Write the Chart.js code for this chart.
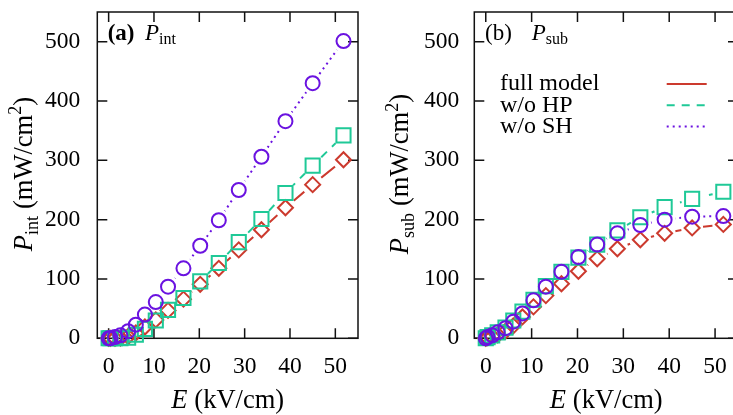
<!DOCTYPE html>
<html><head><meta charset="utf-8">
<script src="https://cdn.jsdelivr.net/npm/chart.js@4.4.1/dist/chart.umd.min.js"></script>
<style>
html,body{margin:0;padding:0;background:#fff;overflow:hidden;width:733px;height:415px;position:relative;}
#wa{position:absolute;left:0;top:0;width:370px;height:415px;}
#wb{position:absolute;left:370px;top:0;width:380px;height:415px;}
canvas{display:block;}
</style></head><body>
<div id="wa"><canvas id="ca" width="370" height="415"></canvas></div>
<div id="wb"><canvas id="cb" width="380" height="415"></canvas></div>
<script>
// ---- data ----
const fieldE   = [0, 0.4, 1.4, 2.6, 4.3, 6, 8, 10.4, 13.1, 16.5, 20.2, 24.3, 28.7, 33.7, 39, 45, 51.8];
const pIntFull = [0, 0, 0, 0.5, 3, 9, 19, 31, 47, 66, 91, 118, 149, 183, 220, 259, 301];
const pIntNoHP = [0, 0, 0, 0, 1, 6, 16, 30, 48, 68, 96, 127, 162, 201, 245, 291, 342];
const pIntNoSH = [0, 0, 2, 5, 12, 23, 40, 61, 87, 118, 156, 199, 250, 306, 366, 430, 501];
const pSubFull = [0, 1, 3, 6, 12, 21, 36, 53, 72, 92, 113, 134, 151, 166, 177, 186, 192];
const pSubNoHP = [0, 2, 5, 10, 18, 30, 45, 65, 88, 112, 136, 158, 182, 204, 221, 235, 247];
const pSubNoSH = [0, 2, 5, 10, 17, 28, 42, 64, 87, 112, 137, 158, 177, 191, 200, 205, 206];
const seriesNames = ['full model', 'w/o HP', 'w/o SH'];
const xTickStep = 10, yTickStep = 100;

const SERIF = '"Liberation Serif", "Times New Roman", serif';
const COL = {full:'#cc3a2e', hp:'#1fc997', sh:'#6a12e0'};
const STY = {
  full:{color:COL.full, dash:[], point:'rectRot', r:7.5},
  hp:{color:COL.hp, dash:[8,7], point:'rect', r:10},
  sh:{color:COL.sh, dash:[2,4], point:'circle', r:7}
};

function pts(vals){ return fieldE.map((e,i)=>({x:e, y:vals[i]})); }

function buildDatasets(full, hp, sh){
  const list = [['sh', sh, 2], ['hp', hp, 1], ['full', full, 0]];
  const ds = [];
  let ord = 0;
  for (const [k, vals, ni] of list){
    const s = STY[k];
    const pIdx = ds.length;
    ds.push({label:seriesNames[ni], data:pts(vals), showLine:false, pointStyle:s.point,
      pointRadius:s.r, pointHoverRadius:s.r, pointBorderWidth:2, borderColor:s.color,
      backgroundColor:'rgba(0,0,0,0)', order:ord++, clip:false});
    ds.push({label:seriesNames[ni]+' line', data:pts(vals), showLine:true, pointRadius:0,
      borderColor:s.color, borderWidth:2, borderDash:s.dash, backgroundColor:'rgba(0,0,0,0)',
      gapFrom:pIdx, gapR:11, order:ord++});
  }
  return ds;
}

function drawRich(ctx, parts, x, y, align, rot){
  ctx.save(); ctx.translate(x,y); if(rot) ctx.rotate(rot);
  let w = 0;
  for (const p of parts){ ctx.font = p.f; w += ctx.measureText(p.t).width + (p.sp||0); }
  let cx = align === 'center' ? -w/2 : 0;
  ctx.textBaseline = 'alphabetic'; ctx.textAlign = 'left'; ctx.fillStyle = '#000';
  for (const p of parts){ ctx.font = p.f; ctx.fillText(p.t, cx, p.dy||0); cx += ctx.measureText(p.t).width + (p.sp||0); }
  ctx.restore();
}

const gapPlugin = {
  id:'gapPlugin',
  beforeDatasetDraw(chart, args){
    const ds = chart.data.datasets[args.index];
    if (ds.gapFrom == null) return;
    const ctx = chart.ctx;
    const els = chart.getDatasetMeta(ds.gapFrom).data;
    ctx.save();
    for (const p of els){
      ctx.beginPath();
      ctx.rect(-10, -10, chart.width+20, chart.height+20);
      ctx.moveTo(p.x + ds.gapR, p.y);
      ctx.arc(p.x, p.y, ds.gapR, 0, Math.PI*2);
      ctx.clip('evenodd');
    }
  },
  afterDatasetDraw(chart, args){
    const ds = chart.data.datasets[args.index];
    if (ds.gapFrom == null) return;
    chart.ctx.restore();
  }
};

const framePlugin = {
  id:'framePlugin',
  beforeDatasetsDraw(chart){
    const {ctx, chartArea:a, scales:{x, y}} = chart;
    const L = 10;
    ctx.save();
    ctx.strokeStyle = '#111'; ctx.lineWidth = 1.5;
    ctx.strokeRect(a.left, a.top, a.right-a.left, a.bottom-a.top);
    ctx.beginPath();
    for (const t of x.ticks){
      const px = x.getPixelForValue(t.value);
      ctx.moveTo(px, a.bottom); ctx.lineTo(px, a.bottom-L);
      ctx.moveTo(px, a.top); ctx.lineTo(px, a.top+L);
    }
    for (const t of y.ticks){
      const py = y.getPixelForValue(t.value);
      ctx.moveTo(a.left, py); ctx.lineTo(a.left+L, py);
      ctx.moveTo(a.right, py); ctx.lineTo(a.right-L, py);
    }
    ctx.stroke();
    ctx.restore();
  },
  afterDraw(chart){
    const o = chart.options.plugins.deco;
    const {ctx, chartArea:a} = chart;
    const cxm = (a.left + a.right)/2;
    const F = 26.5, FS = 18;
    drawRich(ctx, [{t:'E', f:`italic ${F}px ${SERIF}`, sp:7}, {t:'(kV/cm)', f:`${F}px ${SERIF}`}], cxm, 407.5, 'center');
    drawRich(ctx, [
      {t:'P', f:`italic ${F}px ${SERIF}`},
      {t:o.sub, f:`${FS}px ${SERIF}`, dy:6, sp:7},
      {t:'(mW/cm', f:`${F}px ${SERIF}`},
      {t:'2', f:`${FS}px ${SERIF}`, dy:-10.5},
      {t:')', f:`${F}px ${SERIF}`}
    ], o.yTitleX, (a.top+a.bottom)/2 - 1, 'center', -Math.PI/2);
    drawRich(ctx, [{t:o.tag, f:`${o.tagBold?'bold ':''}23px ${SERIF}`}], o.tagX, 40, 'left');
    drawRich(ctx, [{t:'P', f:`italic 23px ${SERIF}`}, {t:o.sub, f:`16px ${SERIF}`, dy:4}], o.tagX + o.pOff, 40, 'left');
    if (o.legend){
      const keys = ['full','hp','sh'];
      keys.forEach((k, i) => {
        const yy = 84 + i*21.3;
        ctx.save();
        ctx.font = `24px ${SERIF}`; ctx.fillStyle = '#000'; ctx.textBaseline = 'middle'; ctx.textAlign = 'left';
        ctx.fillText(seriesNames[i], o.legend.tx, yy);
        ctx.strokeStyle = STY[k].color; ctx.lineWidth = 2; ctx.setLineDash(STY[k].dash);
        ctx.beginPath(); ctx.moveTo(o.legend.lx0, yy); ctx.lineTo(o.legend.lx1, yy); ctx.stroke();
        ctx.restore();
      });
    }
  }
};

function makeChart(id, full, hp, sh, deco, yW, yPad, padRight){
  return new Chart(document.getElementById(id), {
    type:'scatter',
    data:{datasets:buildDatasets(full, hp, sh)},
    options:{
      responsive:false, animation:false, devicePixelRatio:1,
      layout:{padding:{left:0, right:padRight, top:7.3, bottom:0}},
      plugins:{legend:{display:false}, tooltip:{enabled:false}, deco:deco},
      elements:{line:{tension:0}},
      scales:{
        x:{type:'linear', min:-2.5, max:55, grid:{display:false, drawTicks:false}, border:{display:false},
           ticks:{stepSize:xTickStep, includeBounds:false, autoSkip:false, maxRotation:0, padding:14,
                  color:'#000', font:{family:SERIF, size:23.5}},
           afterFit(s){ s.height = 76.7; s.paddingLeft = 0; s.paddingRight = 0; s.paddingTop = 0; s.paddingBottom = 0; }},
        y:{type:'linear', min:0, max:550, grid:{display:false, drawTicks:false}, border:{display:false},
           ticks:{stepSize:yTickStep, includeBounds:false, autoSkip:false, padding:yPad,
                  color:'#000', font:{family:SERIF, size:23.5}},
           afterFit(s){ s.width = yW; s.paddingLeft = 0; s.paddingRight = 0; s.paddingTop = 0; s.paddingBottom = 0; }}
      }
    },
    plugins:[gapPlugin, framePlugin]
  });
}

makeChart('ca', pIntFull, pIntNoHP, pIntNoSH,
  {sub:'int', tag:'(a)', tagBold:true, tagX:107.7, pOff:37.3, yTitleX:31.5}, 97.3, 17, 9.3);
makeChart('cb', pSubFull, pSubNoHP, pSubNoSH,
  {sub:'sub', tag:'(b)', tagBold:false, tagX:115, pOff:46.7, yTitleX:38.3,
   legend:{tx:130, lx0:296.7, lx1:336.7}}, 104.3, 15, 12);
</script>
</body></html>
